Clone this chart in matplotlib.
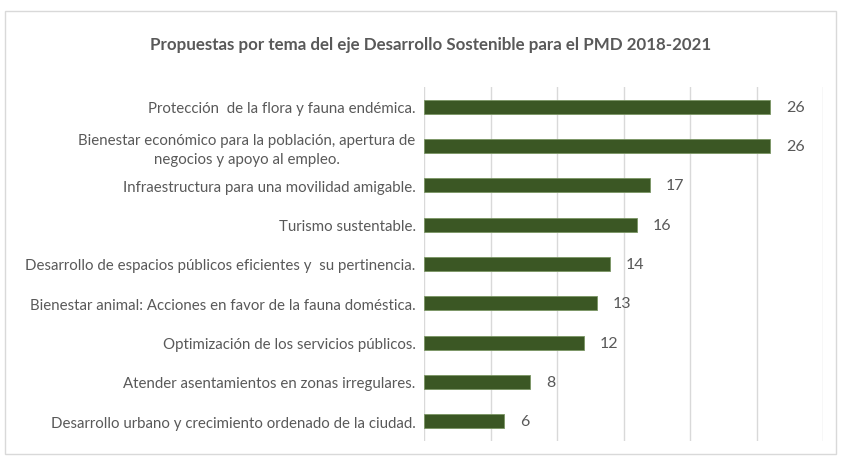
import matplotlib.pyplot as plt
from matplotlib.patches import Rectangle

plt.rcParams['font.family'] = ['Lato', 'DejaVu Sans']

temas = [
    'Protección  de la flora y fauna endémica.',
    'Bienestar económico para la población, apertura de\nnegocios y apoyo al empleo.',
    'Infraestructura para una movilidad amigable.',
    'Turismo sustentable.',
    'Desarrollo de espacios públicos eficientes y  su pertinencia.',
    'Bienestar animal: Acciones en favor de la fauna doméstica.',
    'Optimización de los servicios públicos.',
    'Atender asentamientos en zonas irregulares.',
    'Desarrollo urbano y crecimiento ordenado de la ciudad.',
]
propuestas = [26, 26, 17, 16, 14, 13, 12, 8, 6]
ticks = [0, 5, 10, 15, 20, 25, 30]

gris = '#595959'
verde = '#3B5724'

fig = plt.figure(figsize=(8.41, 4.64), dpi=100)
fig.patches.append(Rectangle((5 / 841, 9 / 464), 831 / 841, 443 / 464,
                             transform=fig.transFigure, fill=False,
                             edgecolor='#D9D9D9', linewidth=1))

ax = fig.add_axes([424 / 841, 22 / 464, 399 / 841, 354 / 464])
y = list(range(len(temas)))
ax.barh(y, propuestas, height=0.36, color=verde, edgecolor='#7A9563',
        linewidth=0.6, zorder=3)
for yi, v in zip(y, propuestas):
    ax.text(v + 1.2, yi, str(v), va='center', ha='left', fontsize=11.5,
            color=gris)

ax.set_xlim(0, 30)
ax.set_ylim(len(temas) - 0.5, -0.5)
ax.set_xticks(ticks)
ax.set_xticklabels([])
ax.tick_params(axis='x', length=0)
ax.set_yticks(y)
ax.set_yticklabels(temas, fontsize=10.8, color=gris, ha='right',
                   multialignment='center', linespacing=1.4)
ax.tick_params(axis='y', length=0, pad=6)
ax.grid(axis='x', color='#D9D9D9', linewidth=1, zorder=0)
for s in ax.spines.values():
    s.set_visible(False)

fig.text(431 / 841, 1 - 45 / 464, 'Propuestas por tema del eje Desarrollo Sostenible para el PMD 2018-2021',
         ha='center', va='center', fontsize=12.2, fontweight='bold', color=gris)

fig.savefig('out.png', dpi=100)
